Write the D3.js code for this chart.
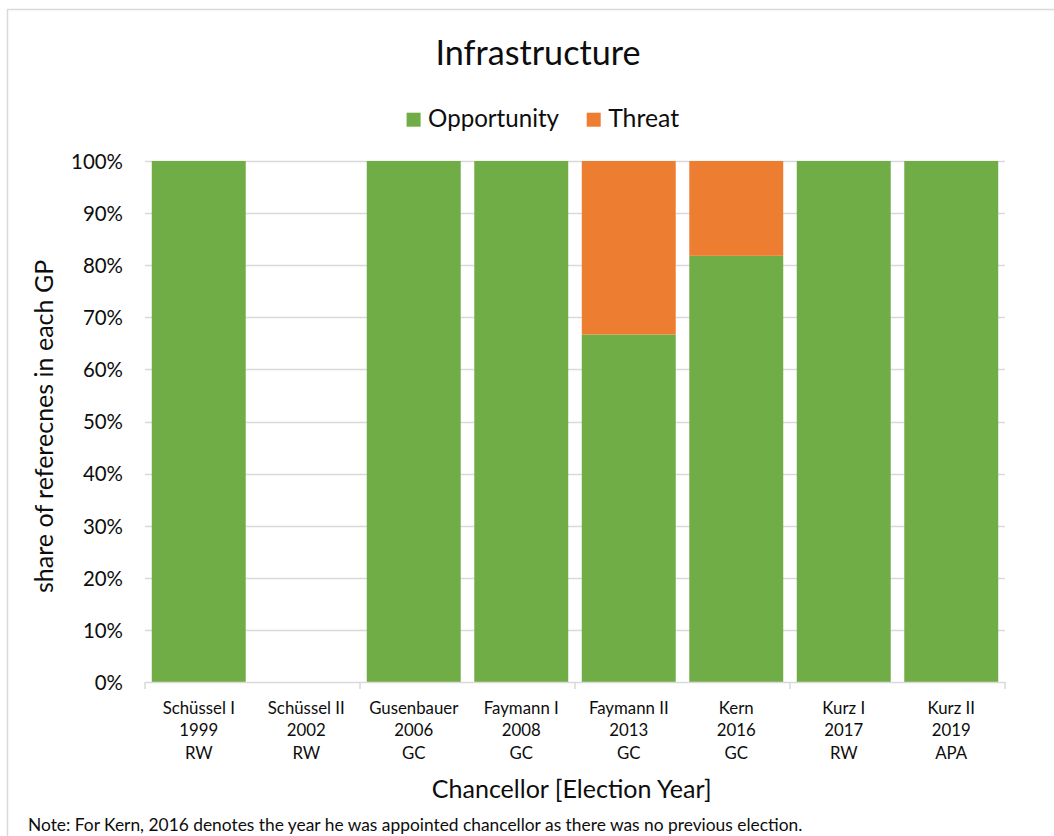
<!DOCTYPE html>
<html>
<head>
<meta charset="utf-8">
<script src="https://cdn.jsdelivr.net/npm/d3@7"></script>
<style>
  html, body { margin: 0; padding: 0; background: #fff; }
  svg { display: block; }
  text { font-family: Lato, "Open Sans", sans-serif; fill: #0d0d0d; }
</style>
</head>
<body>
<svg id="chart" width="1054" height="836"></svg>
<script>
// ---- data ----
const chancellors = ["Schüssel I", "Schüssel II", "Gusenbauer", "Faymann I", "Faymann II", "Kern", "Kurz I", "Kurz II"];
const years = ["1999", "2002", "2006", "2008", "2013", "2016", "2017", "2019"];
const sources = ["RW", "RW", "GC", "GC", "GC", "GC", "RW", "APA"];
const opportunity = [1.0, 0.0, 1.0, 1.0, 0.667, 0.818, 1.0, 1.0];
const threat = [0.0, 0.0, 0.0, 0.0, 0.333, 0.182, 0.0, 0.0];
const seriesNames = ["Opportunity", "Threat"];
const yTicks = [0, 0.1, 0.2, 0.3, 0.4, 0.5, 0.6, 0.7, 0.8, 0.9, 1.0];
const titleText = "Infrastructure";
const xTitle = "Chancellor [Election Year]";
const yTitle = "share of referecnes in each GP";
const noteText = "Note: For Kern, 2016 denotes the year he was appointed chancellor as there was no previous election.";

const colors = {Opportunity: "#70ad47", Threat: "#ed7d31"};
const gridColor = "#d9d9d9";

const svg = d3.select("#chart");

// fit font size so text matches a target width
function fit(sel, target, base) {
  sel.style("font-size", base + "px");
  const w = sel.node().getComputedTextLength();
  const s = base * target / w;
  sel.style("font-size", s + "px");
  return s;
}

// chart frame
svg.append("rect")
  .attr("x", 7.5).attr("y", 9.5)
  .attr("width", 1100).attr("height", 900)
  .attr("fill", "none").attr("stroke", gridColor).attr("stroke-width", 1.5);

const plot = {left: 145, right: 1005, top: 161, bottom: 682};

const x = d3.scaleBand()
  .domain(chancellors)
  .range([plot.left, plot.right])
  .paddingInner(0.126)
  .paddingOuter(0.063);

const y = d3.scaleLinear().domain([0, 1]).range([plot.bottom, plot.top]);

// gridlines
svg.append("g").selectAll("line")
  .data(yTicks.filter(d => d > 0))
  .join("line")
  .attr("x1", plot.left).attr("x2", plot.right)
  .attr("y1", d => Math.round(y(d)) + 0.5).attr("y2", d => Math.round(y(d)) + 0.5)
  .attr("stroke", gridColor).attr("stroke-width", 1.3);

// stacked bars
const rows = chancellors.map((c, i) => ({name: c, Opportunity: opportunity[i], Threat: threat[i]}));
const stack = d3.stack().keys(seriesNames)(rows);
svg.append("g").selectAll("g")
  .data(stack)
  .join("g")
  .attr("fill", d => colors[d.key])
  .selectAll("rect")
  .data(d => d)
  .join("rect")
  .attr("x", d => x(d.data.name))
  .attr("width", x.bandwidth())
  .attr("y", d => y(d[1]))
  .attr("height", d => y(d[0]) - y(d[1]));

// x axis line + ticks every two categories
svg.append("line")
  .attr("x1", plot.left).attr("x2", plot.right)
  .attr("y1", plot.bottom + 0.5).attr("y2", plot.bottom + 0.5)
  .attr("stroke", gridColor).attr("stroke-width", 1.5);
const step = x.step();
const tickIdx = [0, 2, 4, 6, 8];
svg.append("g").selectAll("line")
  .data(tickIdx)
  .join("line")
  .attr("x1", d => plot.left + d * step).attr("x2", d => plot.left + d * step)
  .attr("y1", plot.bottom).attr("y2", plot.bottom + 7)
  .attr("stroke", gridColor).attr("stroke-width", 1.5);

// y tick labels
const yAxis = d3.axisLeft(y).tickValues(yTicks).tickFormat(d3.format(".0%")).tickSize(0).tickPadding(22);
const yg = svg.append("g").attr("transform", `translate(${plot.left},0)`).call(yAxis);
yg.select(".domain").remove();
const yLabels = yg.selectAll("text").attr("fill", "#0d0d0d").style("font-family", "Lato, 'Open Sans', sans-serif");
const ref = yg.selectAll("text").filter(d => d === 1);
const ySize = fit(ref, 52, 18);
yLabels.style("font-size", ySize + "px").attr("dy", "0.36em");

// x category labels (three lines)
const xl = svg.append("g").selectAll("text")
  .data(chancellors)
  .join("text")
  .attr("text-anchor", "middle")
  .attr("x", d => x(d) + x.bandwidth() / 2);
xl.append("tspan").attr("class", "l1").attr("x", d => x(d) + x.bandwidth() / 2).attr("y", 713.5).text(d => d);
xl.append("tspan").attr("x", d => x(d) + x.bandwidth() / 2).attr("y", 736).text((d, i) => years[i]);
xl.append("tspan").attr("x", d => x(d) + x.bandwidth() / 2).attr("y", 758.5).text((d, i) => sources[i]);
const xRef = xl.filter(d => d === "Schüssel II").select("tspan.l1");
xl.style("font-size", "18px");
const wRef = xRef.node().getComputedTextLength();
const xSize = 18 * 77 / wRef;
xl.style("font-size", xSize + "px");

// title
const t = svg.append("text").attr("x", 538).attr("y", 65).attr("text-anchor", "middle").text(titleText);
fit(t, 205, 30);

// legend
const legX = [406.6, 586.7];
const legTextW = [131, 71];
const lg = svg.append("g");
seriesNames.forEach((s, i) => {
  lg.append("rect").attr("x", legX[i]).attr("y", 112.7).attr("width", 14).attr("height", 14).attr("fill", colors[s]);
  const lt = lg.append("text").attr("x", legX[i] + 21.5).attr("y", 126.7).text(s);
  fit(lt, legTextW[i], 21);
});

// axis titles
const xt = svg.append("text").attr("x", 571.7).attr("y", 798).attr("text-anchor", "middle").text(xTitle);
const atSize = fit(xt, 280, 23);
svg.append("text")
  .attr("transform", `translate(53,593) rotate(-90)`)
  .attr("text-anchor", "start")
  .style("font-size", atSize + "px")
  .text(yTitle);

// note
const nt = svg.append("text").attr("x", 28).attr("y", 831).text(noteText);
fit(nt, 775, 15);
</script>
</body>
</html>
